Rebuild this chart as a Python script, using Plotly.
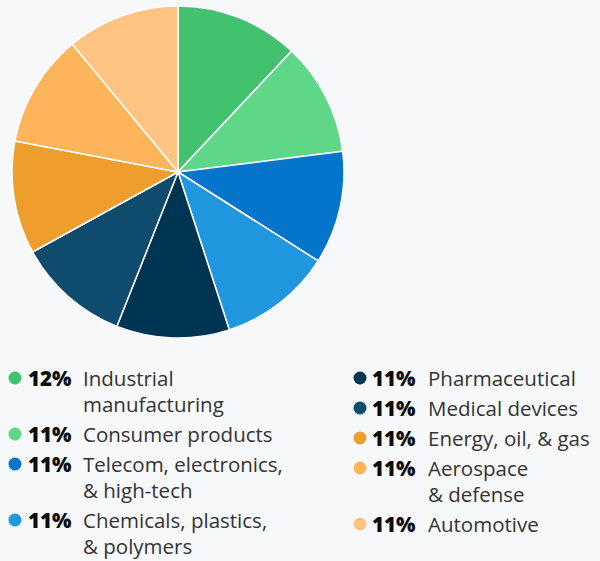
import plotly.graph_objects as go

# Share of respondents by industry
categories = [
    "Industrial<br>manufacturing",
    "Consumer products",
    "Telecom, electronics,<br>& high-tech",
    "Chemicals, plastics,<br>& polymers",
    "Pharmaceutical",
    "Medical devices",
    "Energy, oil, & gas",
    "Aerospace<br>& defense",
    "Automotive",
]
values = [12, 11, 11, 11, 11, 11, 11, 11, 11]
colors = [
    "#42c16f", "#5ed888", "#0475ca", "#2197e0", "#003453",
    "#0f4b6d", "#ed9e2c", "#fdb45a", "#ffc482",
]

W, H = 600, 561
BG = "#f6f8fa"
FONT = "Open Sans"
SIZE = 20.5

fig = go.Figure(
    go.Pie(
        labels=[c.replace("<br>", " ") for c in categories],
        values=values,
        sort=False,
        direction="clockwise",
        rotation=0,
        marker=dict(colors=colors, line=dict(color="white", width=1.5)),
        textinfo="none",
        hoverinfo="label+percent",
        showlegend=False,
        domain=dict(x=[12 / W, 344 / W], y=[1 - 338 / H, 1 - 6 / H]),
    )
)

# Custom two-column legend underneath the pie
annotations = []
shapes = []
columns = [
    dict(items=range(0, 4), dot_x=15, pct_x=26, lab_x=81),
    dict(items=range(4, 9), dot_x=360, pct_x=370, lab_x=426),
]
ROW_START, ROW_GAP, LINE_GAP = 378, 30, 26


def py(y):
    return 1 - y / H


def px(x):
    return x / W


for col in columns:
    y = ROW_START
    for i in col["items"]:
        lines = categories[i].split("<br>")
        r = 6.5
        shapes.append(dict(
            type="circle", xref="paper", yref="paper",
            x0=px(col["dot_x"] - r), x1=px(col["dot_x"] + r),
            y0=py(y + r), y1=py(y - r),
            fillcolor=colors[i], line=dict(width=0),
        ))
        annotations.append(dict(
            text=f"{values[i]}%", x=px(col["pct_x"]), y=py(y),
            xref="paper", yref="paper", xanchor="left", yanchor="middle",
            showarrow=False,
            font=dict(family=FONT, size=SIZE, color="#0d0d0d", weight=800),
        ))
        for k, line in enumerate(lines):
            annotations.append(dict(
                text=line, x=px(col["lab_x"]), y=py(y + k * LINE_GAP),
                xref="paper", yref="paper", xanchor="left", yanchor="middle",
                showarrow=False, font=dict(family=FONT, size=SIZE, color="#333333"),
            ))
        y += (len(lines) - 1) * LINE_GAP + ROW_GAP

fig.update_layout(
    width=W, height=H,
    margin=dict(l=0, r=0, t=0, b=0),
    paper_bgcolor=BG, plot_bgcolor=BG,
    annotations=annotations, shapes=shapes,
    font=dict(family=FONT),
)

fig.write_html("out.html")
